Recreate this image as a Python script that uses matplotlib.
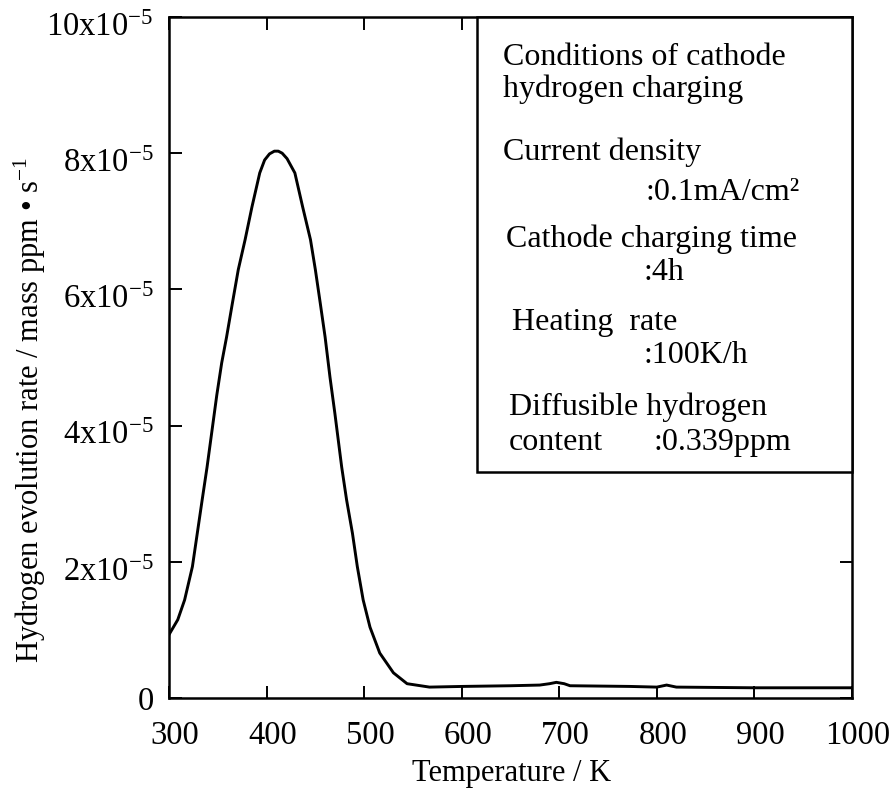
import matplotlib
matplotlib.use("Agg")
import matplotlib.pyplot as plt
from matplotlib.patches import Rectangle
from matplotlib.transforms import ScaledTranslation

plt.rcParams['font.family'] = ['Liberation Serif', 'DejaVu Serif']
plt.rcParams['mathtext.fontset'] = 'custom'
plt.rcParams['mathtext.rm'] = 'Liberation Serif'
plt.rcParams['mathtext.it'] = 'Liberation Serif:italic'

# thermal desorption curve, rate in units of 1e-5 mass ppm/s
temperature = [300, 309, 316, 324, 329, 334, 339, 344, 349, 354, 359, 365, 371, 378,
               385, 393, 398, 403, 408, 412, 416, 421, 429, 437, 445, 450, 455, 460, 465, 470,
               477, 482, 488, 493, 499, 506, 516, 530, 544, 567, 601, 650, 680, 690,
               697, 705, 711, 772, 800, 810, 820, 900, 1000]
rate = [0.93, 1.15, 1.44, 1.93, 2.42, 2.91, 3.39, 3.92, 4.45, 4.92, 5.30, 5.80, 6.29, 6.73,
        7.21, 7.71, 7.90, 7.99, 8.03, 8.03, 8.00, 7.92, 7.71, 7.21, 6.73, 6.29, 5.80, 5.30, 4.71, 4.18,
        3.39, 2.91, 2.42, 1.93, 1.44, 1.04, 0.66, 0.37, 0.21, 0.16, 0.17, 0.18, 0.19, 0.21,
        0.23, 0.21, 0.18, 0.17, 0.16, 0.19, 0.16, 0.15, 0.15]

xticks = [300, 400, 500, 600, 700, 800, 900, 1000]
yticks = [0, 2, 4, 6, 8, 10]
ytick_labels = ['0'] + [r'%dx10$^{-5}$' % v for v in yticks[1:]]

conditions = [
    ('Conditions of cathode', 503, 65),
    ('hydrogen charging', 503, 97),
    ('Current density', 503, 160),
    (':0.1mA/cm\u00b2', 645, 200),
    ('Cathode charging time', 506, 247),
    (':4h', 643, 280),
    ('Heating  rate', 512, 330),
    (':100K/h', 643, 363),
    ('Diffusible hydrogen', 509, 415),
    ('content', 509, 450),
    (':0.339ppm', 653, 450),
]

W, H = 896, 796
fig = plt.figure(figsize=(W / 100, H / 100), dpi=100)
x0, x1, y0, y1 = 169, 852, 17, 698
ax = fig.add_axes([x0 / W, 1 - y1 / H, (x1 - x0) / W, (y1 - y0) / H])

ax.plot(temperature, rate, color='black', lw=2.1, zorder=2)

ax.set_xlim(300, 1000)
ax.set_ylim(0, 10)
ax.set_xticks(xticks)
ax.set_yticks(yticks)
ax.set_yticklabels(ytick_labels)
ax.tick_params(direction='in', length=9, width=1.4, labelsize=23.5,
               top=True, right=True)
ax.tick_params(axis='x', pad=16)
ax.tick_params(axis='y', pad=11)
for s in ax.spines.values():
    s.set_linewidth(1.8)

# tick numbers sit a little right of / below their ticks
for lab in ax.get_xticklabels():
    lab.set_transform(lab.get_transform() + ScaledTranslation(6 / 100, 0, fig.dpi_scale_trans))
for lab in ax.get_yticklabels()[1:]:
    lab.set_transform(lab.get_transform() + ScaledTranslation(0, -7 / 100, fig.dpi_scale_trans))

# conditions box in the upper right corner
bx = (477 - x0) / (x1 - x0)
by = (y1 - 472) / (y1 - y0)
ax.add_patch(Rectangle((bx, by), 1 - bx, 1 - by, transform=ax.transAxes,
                       facecolor='white', edgecolor='black', lw=1.8, zorder=3,
                       clip_on=False))
for txt, px, py in conditions:
    ax.text((px - x0) / (x1 - x0), (y1 - py) / (y1 - y0), txt,
            transform=ax.transAxes, fontsize=23, va='baseline', ha='left', zorder=4)

fig.text(512 / W, 1 - 773 / H, 'Temperature / K', fontsize=22, ha='center', va='center')
fig.text(30 / W, 1 - 410 / H, 'Hydrogen evolution rate / mass ppm \u2022 s$^{-1}$',
         fontsize=22, rotation=90, ha='center', va='center')

fig.savefig('out.png', dpi=100)
